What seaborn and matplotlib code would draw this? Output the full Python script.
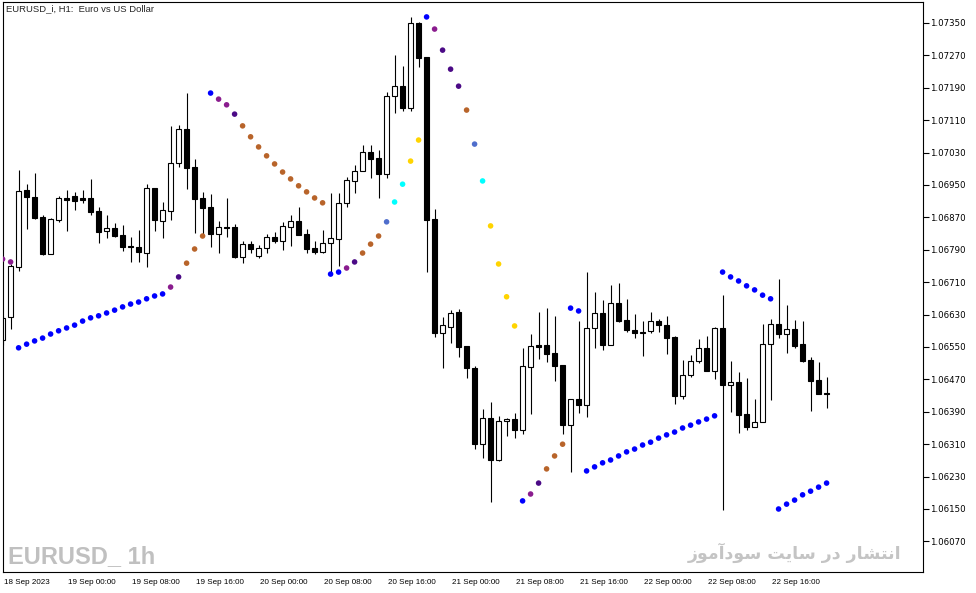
import matplotlib
matplotlib.use("Agg")
import matplotlib.pyplot as plt
import matplotlib.transforms as mtransforms
import seaborn as sns
import pandas as pd
import numpy as np

# EURUSD_i H1 candles, 18 Sep 2023 16:00 -> 22 Sep 2023 23:00
opens = [1.06567, 1.06624, 1.06748, 1.06938, 1.06920, 1.06871, 1.06780, 1.06864, 1.06918, 1.06923,
         1.06918, 1.06918, 1.06886, 1.06836, 1.06844, 1.06827, 1.06799, 1.06797, 1.06782, 1.06943,
         1.06861, 1.06886, 1.07004, 1.07088, 1.06994, 1.06918, 1.06896, 1.06829, 1.06846, 1.06846,
         1.06772, 1.06804, 1.06775, 1.06794, 1.06822, 1.06812, 1.06846, 1.06861, 1.06829, 1.06794,
         1.06785, 1.06807, 1.06817, 1.06906, 1.06960, 1.06985, 1.07031, 1.07017, 1.06977, 1.07170,
         1.07194, 1.07140, 1.07350, 1.07266, 1.06866, 1.06585, 1.06599, 1.06636, 1.06552, 1.06498,
         1.06310, 1.06375, 1.06271, 1.06367, 1.06372, 1.06345, 1.06501, 1.06555, 1.06555, 1.06535,
         1.06506, 1.06357, 1.06422, 1.06407, 1.06597, 1.06634, 1.06555, 1.06659, 1.06617, 1.06592,
         1.06587, 1.06590, 1.06614, 1.06604, 1.06575, 1.06429, 1.06481, 1.06515, 1.06548, 1.06491,
         1.06597, 1.06456, 1.06464, 1.06385, 1.06352, 1.06365, 1.06557, 1.06607, 1.06582, 1.06594,
         1.06557, 1.06518, 1.06469, 1.06436]
highs = [1.06627, 1.06755, 1.06987, 1.06952, 1.06980, 1.06876, 1.06869, 1.06923, 1.06938, 1.06933,
         1.06938, 1.06965, 1.06896, 1.06876, 1.06856, 1.06851, 1.06822, 1.06839, 1.06952, 1.06943,
         1.06908, 1.07096, 1.07098, 1.07177, 1.07014, 1.06933, 1.06928, 1.06861, 1.06918, 1.06854,
         1.06812, 1.06812, 1.06802, 1.06829, 1.06834, 1.06859, 1.06876, 1.06896, 1.06841, 1.06812,
         1.06839, 1.06930, 1.06930, 1.06970, 1.06999, 1.07049, 1.07049, 1.07036, 1.07180, 1.07271,
         1.07244, 1.07365, 1.07352, 1.07266, 1.06891, 1.06624, 1.06641, 1.06644, 1.06552, 1.06503,
         1.06397, 1.06414, 1.06380, 1.06375, 1.06387, 1.06548, 1.06582, 1.06636, 1.06646, 1.06627,
         1.06506, 1.06422, 1.06614, 1.06735, 1.06686, 1.06666, 1.06703, 1.06708, 1.06669, 1.06632,
         1.06614, 1.06636, 1.06619, 1.06627, 1.06577, 1.06518, 1.06530, 1.06570, 1.06577, 1.06599,
         1.06678, 1.06515, 1.06488, 1.06473, 1.06422, 1.06607, 1.06619, 1.06718, 1.06654, 1.06617,
         1.06614, 1.06525, 1.06513, 1.06476]
lows = [1.06555, 1.06594, 1.06738, 1.06841, 1.06866, 1.06777, 1.06780, 1.06859, 1.06836, 1.06888,
        1.06906, 1.06876, 1.06807, 1.06819, 1.06822, 1.06787, 1.06760, 1.06760, 1.06748, 1.06836,
        1.06819, 1.06864, 1.06994, 1.06940, 1.06832, 1.06827, 1.06797, 1.06782, 1.06822, 1.06770,
        1.06757, 1.06782, 1.06770, 1.06782, 1.06807, 1.06790, 1.06799, 1.06827, 1.06782, 1.06780,
        1.06782, 1.06733, 1.06750, 1.06896, 1.06930, 1.06985, 1.06967, 1.06918, 1.06967, 1.07128,
        1.07133, 1.07133, 1.07241, 1.06735, 1.06575, 1.06498, 1.06560, 1.06525, 1.06473, 1.06298,
        1.06276, 1.06167, 1.06268, 1.06330, 1.06325, 1.06335, 1.06385, 1.06520, 1.06513, 1.06466,
        1.06335, 1.06241, 1.06387, 1.06377, 1.06548, 1.06543, 1.06555, 1.06612, 1.06587, 1.06572,
        1.06528, 1.06585, 1.06587, 1.06533, 1.06409, 1.06422, 1.06476, 1.06511, 1.06491, 1.06471,
        1.06148, 1.06390, 1.06338, 1.06345, 1.06352, 1.06365, 1.06419, 1.06572, 1.06535, 1.06548,
        1.06513, 1.06392, 1.06434, 1.06399]
closes = [1.06622, 1.06750, 1.06935, 1.06920, 1.06869, 1.06780, 1.06866, 1.06918, 1.06913, 1.06911,
          1.06913, 1.06883, 1.06834, 1.06844, 1.06824, 1.06797, 1.06797, 1.06785, 1.06943, 1.06864,
          1.06888, 1.07004, 1.07088, 1.06992, 1.06915, 1.06893, 1.06829, 1.06846, 1.06844, 1.06772,
          1.06804, 1.06792, 1.06794, 1.06822, 1.06812, 1.06849, 1.06861, 1.06827, 1.06792, 1.06785,
          1.06807, 1.06819, 1.06906, 1.06962, 1.06985, 1.07031, 1.07014, 1.06977, 1.07170, 1.07194,
          1.07140, 1.07350, 1.07264, 1.06864, 1.06585, 1.06604, 1.06634, 1.06550, 1.06498, 1.06310,
          1.06375, 1.06271, 1.06367, 1.06372, 1.06345, 1.06503, 1.06552, 1.06550, 1.06533, 1.06503,
          1.06357, 1.06422, 1.06407, 1.06597, 1.06634, 1.06555, 1.06659, 1.06614, 1.06592, 1.06585,
          1.06585, 1.06614, 1.06604, 1.06572, 1.06429, 1.06481, 1.06515, 1.06548, 1.06491, 1.06597,
          1.06456, 1.06464, 1.06382, 1.06352, 1.06365, 1.06557, 1.06607, 1.06582, 1.06594, 1.06552,
          1.06515, 1.06466, 1.06434, 1.06434]

# parabolic SAR dots, one per candle
sar = [1.06767, 1.06760, 1.06548, 1.06557, 1.06565, 1.06572, 1.06582, 1.06590, 1.06597, 1.06604,
       1.06614, 1.06622, 1.06627, 1.06634, 1.06641, 1.06649, 1.06656, 1.06661, 1.06669, 1.06676,
       1.06681, 1.06698, 1.06723, 1.06757, 1.06792, 1.06824, 1.07177, 1.07162, 1.07148, 1.07125,
       1.07096, 1.07069, 1.07044, 1.07022, 1.07002, 1.06982, 1.06965, 1.06948, 1.06933, 1.06918,
       1.06906, 1.06730, 1.06735, 1.06745, 1.06760, 1.06782, 1.06804, 1.06824, 1.06859, 1.06908,
       1.06952, 1.07009, 1.07061, 1.07365, 1.07335, 1.07283, 1.07236, 1.07194, 1.07135, 1.07051,
       1.06960, 1.06849, 1.06755, 1.06674, 1.06602, 1.06170, 1.06187, 1.06214, 1.06249, 1.06281,
       1.06310, 1.06646, 1.06639, 1.06244, 1.06254, 1.06264, 1.06271, 1.06281, 1.06291, 1.06298,
       1.06308, 1.06315, 1.06325, 1.06333, 1.06340, 1.06350, 1.06357, 1.06365, 1.06372, 1.06380,
       1.06735, 1.06723, 1.06713, 1.06701, 1.06691, 1.06678, 1.06669, 1.06150, 1.06162, 1.06172,
       1.06185, 1.06194, 1.06204, 1.06214]
# dot colour code per candle
sar_tone = list("PP" + "BBBBBBBBBBBBBBBBBBB" + "PIRRR" + "BPPI" + "RRRRRRRRRRR" + "BBPI"
                + "RRRSCCGG" + "BPIIIRSCGGGG" + "BPIRRR" + "B" * 33)

tone_colors = {"B": "#0000ff", "P": "#8a1c8e", "I": "#4b0a86", "R": "#b8642a",
               "S": "#4f6ecc", "C": "#00ffff", "G": "#ffd400"}

date_ticks = ["18 Sep 2023", "19 Sep 00:00", "19 Sep 08:00", "19 Sep 16:00", "20 Sep 00:00",
              "20 Sep 08:00", "20 Sep 16:00", "21 Sep 00:00", "21 Sep 08:00", "21 Sep 16:00",
              "22 Sep 00:00", "22 Sep 08:00", "22 Sep 16:00"]
price_ticks = [1.06070, 1.06150, 1.06230, 1.06310, 1.06390, 1.06470, 1.06550, 1.06630, 1.06710,
               1.06790, 1.06870, 1.06950, 1.07030, 1.07110, 1.07190, 1.07270, 1.07350]

df = pd.DataFrame({"time": pd.date_range("2023-09-18 16:00", periods=len(opens), freq="h"),
                   "open": opens, "high": highs, "low": lows, "close": closes,
                   "sar": sar, "tone": sar_tone})
df["idx"] = np.arange(len(df))
df["bull"] = df["close"] > df["open"]

sns.set_style("white")
plt.rcParams["font.family"] = ["DejaVu Sans"]

fig = plt.figure(figsize=(9.76, 5.93), dpi=100)
W, H = 976, 593
ax = fig.add_axes([2.5 / W, (H - 572.3) / H, (923.3 - 2.5) / W, (572.3 - 2.3) / H])

# wicks
ax.vlines(df["idx"], df["low"], df["high"], color="black", linewidth=0.8, zorder=1)
# bodies
body_low = np.minimum(df["open"], df["close"])
body_h = np.maximum((df["close"] - df["open"]).abs(), 0.00001)
ax.bar(df["idx"], body_h, bottom=body_low, width=0.6,
       color=np.where(df["bull"], "white", "black"), edgecolor="black",
       linewidth=0.8, zorder=2)

sns.scatterplot(data=df, x="idx", y="sar", hue="tone", palette=tone_colors, s=16,
                linewidth=0, legend=False, ax=ax, zorder=3)

ax.set_xlim(-0.0125, 115.09)
ax.set_ylim(1.059937, 1.074011)
ax.set_xlabel("")
ax.set_ylabel("")

ax.yaxis.tick_right()
ax.set_yticks(price_ticks)
ax.set_yticklabels([f"{p:.5f}" for p in price_ticks])
ax.set_xticks(df["idx"][::8][:len(date_ticks)])
ax.set_xticklabels(date_ticks)
ax.tick_params(axis="y", direction="out", length=4, width=0.8, labelsize=6.2, pad=1,
               colors="black")
ax.tick_params(axis="x", direction="out", length=3.5, width=0.8, labelsize=5.8, pad=1.5,
               colors="black")
shift = mtransforms.ScaledTranslation(1.5 / 100, 0, fig.dpi_scale_trans)
for lab in ax.get_xticklabels():
    lab.set_horizontalalignment("left")
    lab.set_fontfamily(["Liberation Sans", "DejaVu Sans"])
    lab.set_transform(lab.get_transform() + shift)

for sp in ax.spines.values():
    sp.set_color("black")
    sp.set_linewidth(0.8)
    sp.set_visible(True)

fig.text(6 / W, 1 - 9 / H, "EURUSD_i, H1:  Euro vs US Dollar", fontsize=6.8,
         family=["Liberation Sans", "DejaVu Sans"], va="center", ha="left")

fig.text(8 / W, 1 - 563 / H, "EURUSD_ 1h", fontsize=17, fontweight="bold",
         family=["Liberation Sans", "DejaVu Sans"],
         color="#c0c0c0", va="baseline", ha="left")

# "انتشار در سایت سودآموز" written in joined presentation forms, visual order
promo = ("\uFEAF\uFEEE\uFEE3\uFE81\uFEA9\uFEEE\uFEB3 "
         "\uFE96\uFEF3\uFE8E\uFEB3 "
         "\uFEAD\uFEA9 "
         "\uFEAD\uFE8E\uFEB8\uFE98\uFEE7\uFE8D")
fig.text(901 / W, 1 - 553 / H, promo, fontsize=12.5, fontweight="bold",
         family=["DejaVu Sans"], color="#c4c4c4", va="center", ha="right")

fig.savefig("out.png", dpi=100, facecolor="white")
